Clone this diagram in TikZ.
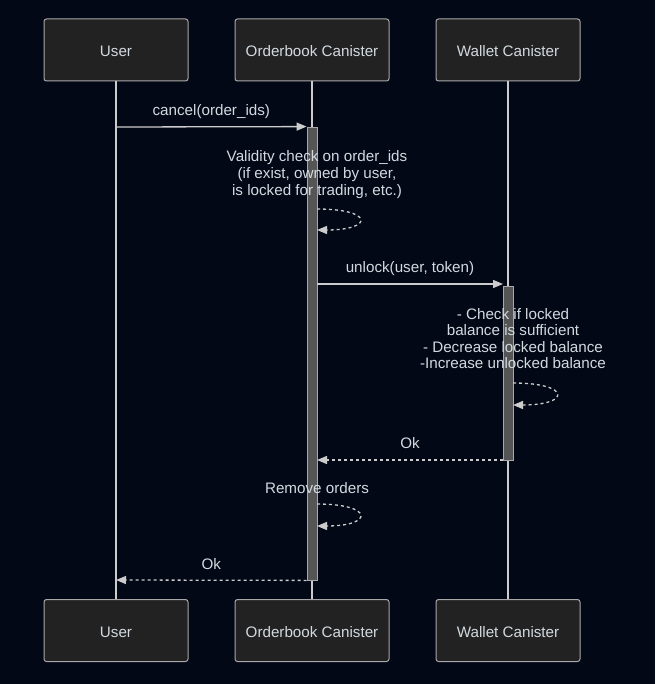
\documentclass[tikz,border=0pt]{standalone}
\usepackage{fontspec}
\setmainfont{Liberation Sans}
\usetikzlibrary{arrows.meta,positioning,calc}
\usepackage{xcolor}

\definecolor{bgdark}{HTML}{030816}
\definecolor{boxfill}{HTML}{212221}
\definecolor{boxline}{HTML}{A8A8A8}
\definecolor{lineclr}{HTML}{CCCCCC}
\definecolor{txtclr}{HTML}{D2DAE0}
\definecolor{barfill}{HTML}{555555}
\newcommand{\seqfont}{\fontsize{15.2}{16.6}\selectfont}

\begin{document}
\begin{tikzpicture}[x=1pt, y=-1pt,
    actor/.style={draw=boxline, line width=1pt, fill=boxfill, rounded corners=2.5pt,
        minimum height=62pt, minimum width=144pt, text=txtclr, font=\seqfont,
        text height=13pt, text depth=0pt},
    lifeline/.style={draw=lineclr, line width=1.4pt},
    actbar/.style={draw=boxline, line width=0.8pt, fill=barfill, minimum width=10pt, inner sep=0pt},
    msg/.style={draw=lineclr, line width=1.3pt, -{Triangle[length=10pt, width=8pt]}},
    reply/.style={msg, dash pattern=on 3pt off 3pt},
    lbl/.style={text=txtclr, font=\seqfont, inner sep=0pt, align=center}]

    % ---------------- Canvas ----------------
    \fill[bgdark] (0,0) rectangle (655,684);
    \useasboundingbox (0,0) rectangle (655,684);

    % ---------------- Actors ----------------
    \foreach \name/\x/\w/\txt in {user/116/144/User, order/312/154/Orderbook Canister, wallet/508/144/Wallet Canister} {
        \node[actor, minimum width=\w pt] (\name-top) at (\x,50) {\txt};
        \node[actor, minimum width=\w pt] (\name-bot) at (\x,630.5) {\txt};
        \draw[lifeline] (\name-top) -- (\name-bot);
    }

    % ---------------- Activations ----------------
    \node[actbar, minimum height=453pt] (orderact) at (312,353.5) {};
    \node[actbar, minimum height=174pt] (walletact) at (508,373) {};

    % ---------------- Message end points ----------------
    \coordinate (cancel-a) at (116,127);
    \coordinate (unlock-a) at (317,284);
    \coordinate (unlock-b) at (503,284);
    \coordinate (okw-a) at (503,460);
    \coordinate (okw-b) at (317,460);
    \coordinate (oku-b) at (116,580);
    \coordinate (chk-a) at (317,209);
    \coordinate (chk-b) at (317,230);
    \coordinate (bal-a) at (513,383);
    \coordinate (bal-b) at (513,405);
    \coordinate (rem-a) at (317,504);
    \coordinate (rem-b) at (317,526);

    % ---------------- cancel ----------------
    \draw[msg] (cancel-a) -- (orderact.north west)
        node[lbl, midway, yshift=15pt] (cancel-lbl) {cancel(order\_ids)};

    % ---------------- validity check ----------------
    \node[lbl, font=\fontsize{15.2}{17}\selectfont] (chk-txt) at (317,174.5)
        {Validity check on order\_ids\\(if exist, owned by user,\\is locked for trading, etc.)};
    \draw[reply] (chk-a) .. controls (374,209) and (374,230) .. (chk-b);

    % ---------------- unlock ----------------
    \draw[msg] (unlock-a) -- (unlock-b)
        node[lbl, midway, yshift=15pt] (unlock-lbl) {unlock(user, token)};

    \node[lbl] (bal-txt) at (513,338.5)
        {- Check if locked\\balance is sufficient\\- Decrease locked balance\\-Increase unlocked balance};
    \draw[reply] (bal-a) .. controls (571,383) and (571,405) .. (bal-b);

    % ---------------- replies ----------------
    \draw[reply] (okw-a) -- (okw-b)
        node[lbl, midway, yshift=17pt] (okw-lbl) {Ok};

    \node[lbl] (rem-txt) at (317,488) {Remove orders};
    \draw[reply] (rem-a) .. controls (374,504) and (374,526) .. (rem-b);

    \draw[reply] (orderact.south west) -- (oku-b)
        node[lbl, midway, yshift=16pt] (oku-lbl) {Ok};

\end{tikzpicture}
\end{document}
